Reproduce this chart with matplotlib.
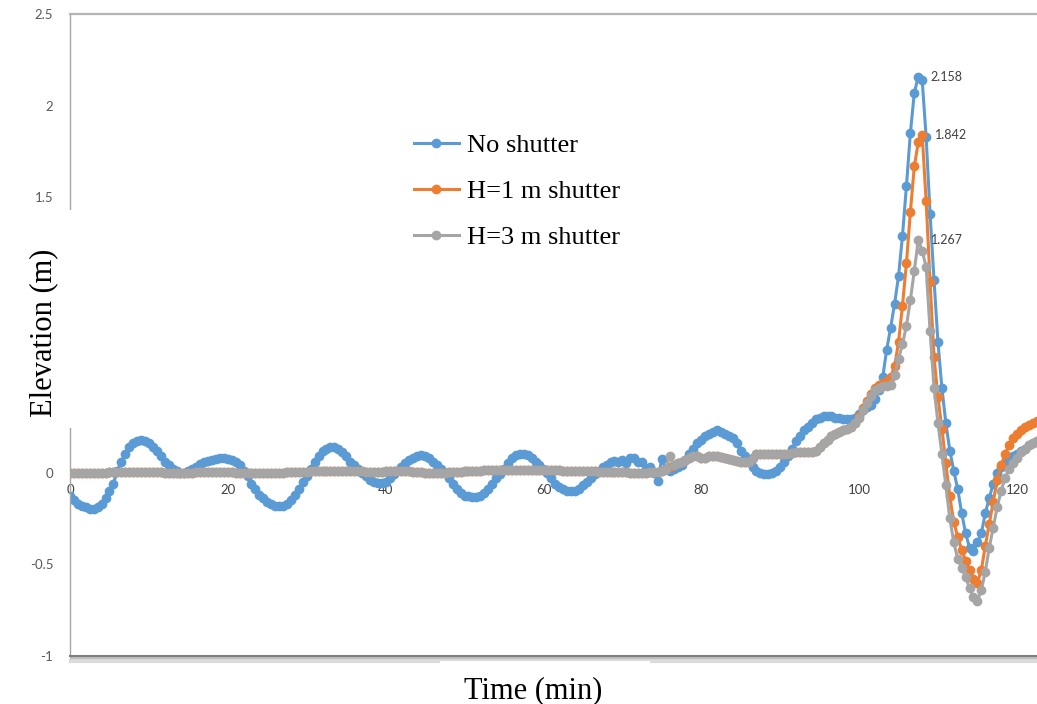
import numpy as np
import matplotlib
matplotlib.use("Agg")
import matplotlib.pyplot as plt
import matplotlib.patheffects as pe
from matplotlib.patches import Rectangle

# time base (min), sampled every half minute
time_min = np.arange(0, 123.5, 0.5)

no_shutter = [
    -0.13, -0.15, -0.17, -0.18, -0.19, -0.20, -0.20, -0.19, -0.17, -0.14,
    -0.10, -0.06, 0.01, 0.06, 0.10, 0.14, 0.16, 0.17, 0.175, 0.17,
    0.16, 0.14, 0.12, 0.09, 0.06, 0.04, 0.02, 0.01, 0.0, 0.0,
    0.01, 0.02, 0.03, 0.045, 0.055, 0.065, 0.07, 0.075, 0.08, 0.08,
    0.075, 0.07, 0.06, 0.04, 0.01, -0.02, -0.06, -0.09, -0.12, -0.14,
    -0.16, -0.17, -0.18, -0.18, -0.18, -0.17, -0.15, -0.12, -0.09, -0.05,
    -0.02, 0.02, 0.06, 0.09, 0.12, 0.13, 0.14, 0.14, 0.13, 0.11,
    0.09, 0.06, 0.04, 0.02, 0.0, -0.02, -0.04, -0.05, -0.055, -0.055,
    -0.05, -0.03, -0.01, 0.01, 0.03, 0.05, 0.07, 0.08, 0.09, 0.095,
    0.09, 0.08, 0.06, 0.04, 0.02, 0.0, -0.03, -0.06, -0.09, -0.11,
    -0.125, -0.13, -0.135, -0.135, -0.13, -0.11, -0.09, -0.06, -0.03, -0.01,
    0.02, 0.05, 0.08, 0.095, 0.10, 0.10, 0.095, 0.08, 0.06, 0.04,
    0.02, 0.0, -0.03, -0.06, -0.08, -0.09, -0.10, -0.10, -0.10, -0.09,
    -0.07, -0.05, -0.03, -0.01, 0.01, 0.03, 0.04, 0.055, 0.065, 0.06,
    0.07, 0.05, 0.08, 0.08, 0.06, 0.055, 0.02, 0.03, 0.0, -0.045,
    0.075, 0.02, 0.01, 0.02, 0.03, 0.04, 0.07, 0.10, 0.13, 0.16,
    0.18, 0.20, 0.21, 0.22, 0.23, 0.22, 0.21, 0.20, 0.19, 0.16,
    0.12, 0.09, 0.06, 0.03, 0.01, 0.0, -0.01, -0.01, 0.0, 0.01,
    0.03, 0.06, 0.09, 0.13, 0.17, 0.20, 0.23, 0.25, 0.27, 0.29,
    0.30, 0.31, 0.31, 0.31, 0.30, 0.30, 0.29, 0.29, 0.29, 0.30,
    0.32, 0.34, 0.36, 0.37, 0.40, 0.45, 0.52, 0.67, 0.79, 0.92,
    1.07, 1.29, 1.56, 1.85, 2.07, 2.158, 2.14, 1.83, 1.41, 1.05,
    0.71, 0.46, 0.27, 0.12, 0.01, -0.09, -0.22, -0.33, -0.41, -0.43,
    -0.38, -0.33, -0.22, -0.14, -0.06, 0.0, 0.03, 0.05, 0.07, 0.09,
    0.10, 0.12, 0.13, 0.15, 0.16, 0.17, 0.18,
]

h1_shutter = [
    0.0, 0.0, 0.0, 0.0, 0.0, 0.0, 0.0, 0.0, 0.0, 0.0,
    0.005, 0.005, 0.005, 0.005, 0.005, 0.005, 0.005, 0.005, 0.005, 0.005,
    0.005, 0.005, 0.005, 0.005, 0.0, 0.0, 0.0, 0.0, 0.0, 0.0,
    0.0, 0.0, 0.005, 0.005, 0.005, 0.005, 0.005, 0.005, 0.005, 0.005,
    0.005, 0.005, 0.0, 0.0, 0.0, 0.0, 0.0, 0.0, 0.0, 0.0,
    0.0, 0.0, 0.0, 0.0, 0.0, 0.005, 0.005, 0.005, 0.005, 0.005,
    0.005, 0.01, 0.01, 0.01, 0.01, 0.01, 0.01, 0.01, 0.01, 0.01,
    0.01, 0.01, 0.01, 0.01, 0.01, 0.005, 0.005, 0.005, 0.005, 0.005,
    0.01, 0.01, 0.01, 0.01, 0.01, 0.01, 0.01, 0.005, 0.005, 0.005,
    0.0, 0.0, 0.0, 0.0, 0.0, 0.0, 0.005, 0.005, 0.005, 0.005,
    0.01, 0.01, 0.01, 0.01, 0.01, 0.015, 0.015, 0.015, 0.015, 0.015,
    0.015, 0.015, 0.015, 0.015, 0.015, 0.015, 0.015, 0.015, 0.015, 0.015,
    0.015, 0.015, 0.015, 0.015, 0.015, 0.01, 0.01, 0.01, 0.01, 0.01,
    0.01, 0.01, 0.01, 0.01, 0.005, 0.005, 0.005, 0.005, 0.005, 0.005,
    0.005, 0.005, 0.0, 0.0, 0.0, 0.0, 0.0, 0.005, 0.005, 0.005,
    0.01, 0.02, 0.03, 0.04, 0.05, 0.06, 0.07, 0.08, 0.09, 0.09,
    0.08, 0.08, 0.09, 0.09, 0.09, 0.085, 0.08, 0.075, 0.07, 0.065,
    0.06, 0.055, 0.06, 0.08, 0.10, 0.10, 0.10, 0.10, 0.10, 0.10,
    0.10, 0.10, 0.10, 0.105, 0.11, 0.11, 0.11, 0.11, 0.11, 0.12,
    0.14, 0.16, 0.18, 0.20, 0.21, 0.22, 0.23, 0.24, 0.25, 0.27,
    0.31, 0.35, 0.39, 0.43, 0.46, 0.48, 0.49, 0.50, 0.52, 0.58,
    0.71, 0.91, 1.14, 1.42, 1.67, 1.80, 1.842, 1.48, 1.04, 0.63,
    0.41, 0.24, 0.05, -0.13, -0.27, -0.35, -0.42, -0.48, -0.53, -0.58,
    -0.60, -0.53, -0.40, -0.28, -0.16, -0.04, 0.04, 0.10, 0.15, 0.19,
    0.21, 0.23, 0.25, 0.26, 0.27, 0.28, 0.28,
]

h3_shutter = [
    0.0, 0.0, 0.0, 0.0, 0.0, 0.0, 0.0, 0.0, 0.0, 0.0,
    0.005, 0.005, 0.005, 0.005, 0.005, 0.005, 0.005, 0.005, 0.005, 0.005,
    0.005, 0.005, 0.005, 0.005, 0.0, 0.0, 0.0, 0.0, 0.0, 0.0,
    0.0, 0.0, 0.005, 0.005, 0.005, 0.005, 0.005, 0.005, 0.005, 0.005,
    0.005, 0.005, 0.0, 0.0, 0.0, 0.0, 0.0, 0.0, 0.0, 0.0,
    0.0, 0.0, 0.0, 0.0, 0.0, 0.005, 0.005, 0.005, 0.005, 0.005,
    0.005, 0.01, 0.01, 0.01, 0.01, 0.01, 0.01, 0.01, 0.01, 0.01,
    0.01, 0.01, 0.01, 0.01, 0.01, 0.005, 0.005, 0.005, 0.005, 0.005,
    0.01, 0.01, 0.01, 0.01, 0.01, 0.01, 0.01, 0.005, 0.005, 0.005,
    0.0, 0.0, 0.0, 0.0, 0.0, 0.0, 0.005, 0.005, 0.005, 0.005,
    0.01, 0.01, 0.01, 0.01, 0.01, 0.015, 0.015, 0.015, 0.015, 0.015,
    0.015, 0.015, 0.015, 0.015, 0.015, 0.015, 0.015, 0.015, 0.015, 0.015,
    0.015, 0.015, 0.015, 0.015, 0.015, 0.01, 0.01, 0.01, 0.01, 0.01,
    0.01, 0.01, 0.01, 0.01, 0.005, 0.005, 0.005, 0.005, 0.005, 0.005,
    0.005, 0.005, 0.0, 0.0, 0.0, 0.0, 0.0, 0.005, 0.005, 0.005,
    0.01, 0.02, 0.09, 0.04, 0.05, 0.06, 0.07, 0.08, 0.09, 0.09,
    0.08, 0.08, 0.09, 0.09, 0.09, 0.085, 0.08, 0.075, 0.07, 0.065,
    0.06, 0.055, 0.06, 0.08, 0.10, 0.10, 0.10, 0.10, 0.10, 0.10,
    0.10, 0.10, 0.10, 0.105, 0.11, 0.11, 0.11, 0.11, 0.11, 0.12,
    0.14, 0.16, 0.18, 0.20, 0.21, 0.22, 0.23, 0.24, 0.25, 0.27,
    0.30, 0.34, 0.38, 0.42, 0.45, 0.46, 0.47, 0.47, 0.48, 0.53,
    0.62, 0.70, 0.80, 0.94, 1.10, 1.267, 1.21, 1.12, 0.77, 0.46,
    0.27, 0.10, -0.07, -0.25, -0.38, -0.47, -0.52, -0.57, -0.63, -0.68,
    -0.70, -0.64, -0.54, -0.41, -0.30, -0.19, -0.10, -0.03, 0.02, 0.05,
    0.08, 0.11, 0.13, 0.15, 0.16, 0.17, 0.18,
]

series_names = ["No shutter", "H=1 m shutter", "H=3 m shutter"]
series_colors = ["#5B9BD5", "#ED7D31", "#A5A5A5"]
x_ticks = [0, 20, 40, 60, 80, 100, 120]
y_ticks = [-1, -0.5, 0, 1.5, 2, 2.5]

W, H = 1037, 704
fig = plt.figure(figsize=(W / 100, H / 100), dpi=100)
ax = fig.add_axes([70 / W, 48 / H, 1 - 70 / W, 642 / H])

series = [no_shutter, h1_shutter, h3_shutter]
for vals, name, col in zip(series, series_names, series_colors):
    ax.plot(time_min, vals, color=col, lw=2.2, marker="o", ms=6,
            label=name)

# peak values
for vals, col in zip(series, series_colors):
    i = int(np.argmax(vals))
    ax.annotate(f"{vals[i]:.3f}", xy=(time_min[i], vals[i]),
                xytext=(9, 0), textcoords="offset points", va="center",
                ha="left", fontsize=9, color="#404040", family="Lato")

ax.set_xlim(0, 122.55)
ax.set_ylim(-1, 2.5)
ax.set_yticks(y_ticks)
ax.set_yticklabels([f"{v:g}" for v in y_ticks], family="Lato", fontsize=9.5,
                   color="#595959")
ax.set_xticks([])
ax.tick_params(axis="y", length=0, pad=12)

# horizontal axis labels sit on the zero line
sec = ax.secondary_xaxis(1 / 3.5)
sec.set_xticks(x_ticks)
sec.set_xticklabels([str(v) for v in x_ticks], family="Lato", fontsize=9.5,
                    color="#404040")
sec.tick_params(length=0, pad=8)
sec.spines["bottom"].set_visible(False)

ax.spines["right"].set_visible(False)
ax.spines["top"].set_color("#B4B4B4")
ax.spines["top"].set_linewidth(1.6)
ax.spines["left"].set_color("#A6A6A6")
ax.spines["left"].set_linewidth(1.0)
ax.spines["bottom"].set_color("#7F7F7F")
ax.spines["bottom"].set_linewidth(1.5)
ax.spines["bottom"].set_path_effects([
    pe.SimpleLineShadow(offset=(1, -3.5), shadow_color="#9a9a9a", alpha=0.35,
                        linewidth=3),
    pe.SimpleLineShadow(offset=(1, -1.5), shadow_color="#808080", alpha=0.5),
    pe.Normal()])

leg = ax.legend(loc="upper left", bbox_to_anchor=(414 / W, 1 - 134 / H),
                bbox_transform=fig.transFigure, frameon=False,
                prop={"family": "Liberation Serif", "size": 19},
                handlelength=1.7, handletextpad=0.3, labelspacing=0.85,
                borderpad=0, borderaxespad=0, numpoints=1)

# axis titles on white backing
fig.patches.append(Rectangle((18 / W, 1 - 428 / H), 58 / W, 218 / H,
                             transform=fig.transFigure, facecolor="white",
                             edgecolor="none", zorder=2))
fig.text(44 / W, 1 - 333 / H, "Elevation (m)", rotation=90, ha="center",
         va="center", family="Liberation Serif", fontsize=22, zorder=3)
fig.patches.append(Rectangle((440 / W, 0), 210 / W, 43 / H,
                             transform=fig.transFigure, facecolor="white",
                             edgecolor="none", zorder=2))
fig.text(533 / W, 1 - 676 / H, "Time (min)", ha="center", va="top",
         family="Liberation Serif", fontsize=22, zorder=3)

fig.savefig("out.png", dpi=100)
